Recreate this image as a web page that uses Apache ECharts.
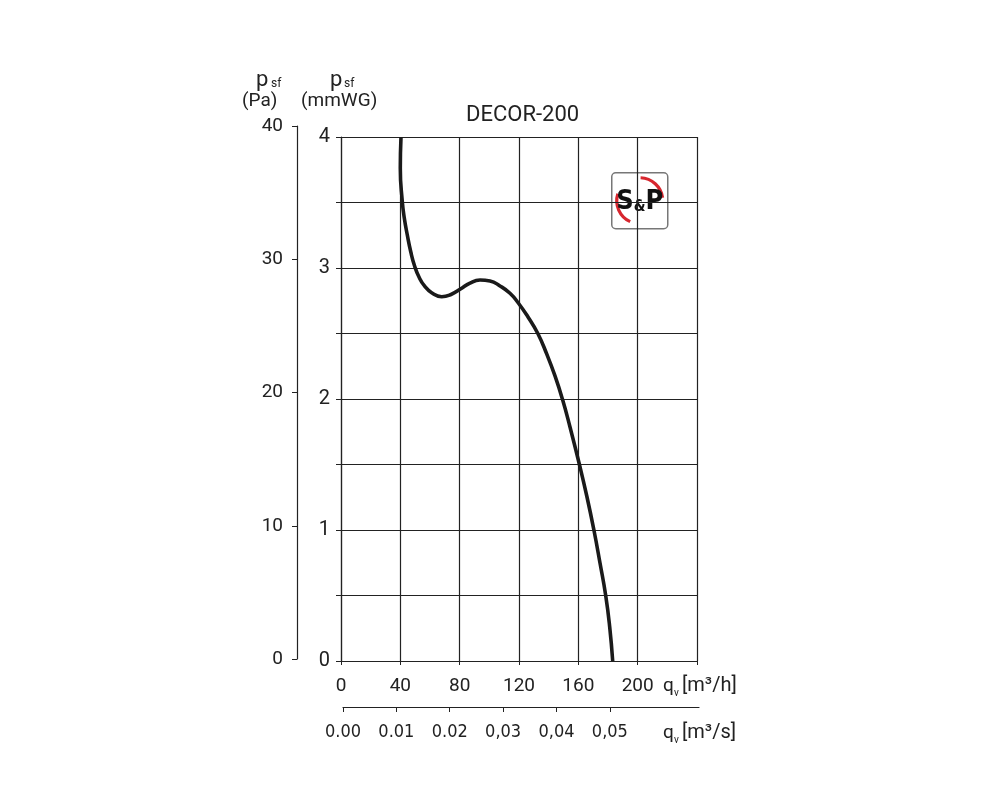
<!DOCTYPE html>
<html>
<head>
<meta charset="utf-8">
<script src="https://cdn.jsdelivr.net/npm/echarts@6/dist/echarts.min.js"></script>
<style>
  html, body {margin: 0; padding: 0; background: #fff;}
  #main {width: 1000px; height: 800px;}
</style>
</head>
<body>
<div id="main"></div>
<script>
    // fan curve: airflow (m3/h) and static pressure (mmWG)
    var flowM3h = [40.45, 39.98, 41.33, 42.67, 44.70, 47.06, 49.62, 52.58, 56.29, 61.35, 67.89, 74.16, 80.56, 86.97,
        93.71, 100.45, 107.19, 113.93, 119.53, 126.07, 132.61, 138.67, 144.27, 149.46, 154.38, 160.65,
        165.84, 170.56, 174.61, 178.45, 181.15, 183.17];
    var pressureMmWG = [4.0, 3.761, 3.506, 3.382, 3.252, 3.122, 3.015, 2.931, 2.863, 2.809, 2.781, 2.798, 2.840, 2.885,
        2.908, 2.901, 2.863, 2.807, 2.733, 2.626, 2.502, 2.344, 2.176, 1.992, 1.786, 1.504,
        1.252, 0.996, 0.748, 0.5, 0.26, 0];
    var m3sValues = [0, 0.01, 0.02, 0.03, 0.04, 0.05];
    var m3sLabels = ['0.00', '0.01', '0.02', '0,03', '0,04', '0,05'];

    var ink = '#222';
    var narrow = "'DejaVu Sans Condensed', Roboto, sans-serif";
    var chart = echarts.init(document.getElementById('main'));
    chart.setOption({
        animation: false,
        textStyle: {fontFamily: 'Roboto', color: ink},
        title: {text: 'DECOR-200', left: 461, top: 99, textStyle: {fontSize: 22, fontWeight: 'normal', color: ink}},
        grid: [
            {left: 341, top: 137, width: 356, height: 524},
            {left: 297, top: 126, width: 1, height: 533},
            {left: 343, top: 706, width: 356, height: 1}
        ],
        xAxis: [
            {
                type: 'value', gridIndex: 0, min: 0, max: 240, interval: 40,
                axisLine: {lineStyle: {color: ink, width: 1.2}},
                axisTick: {length: 4, lineStyle: {color: ink}},
                splitLine: {show: true, lineStyle: {color: ink, width: 1.2}},
                axisLabel: {
                    margin: 16, fontSize: 19, color: ink,
                    formatter: function (v) { return v === 240 ? '' : v; }
                }
            },
            {type: 'value', gridIndex: 1, min: 0, max: 1, show: false},
            {
                type: 'value', gridIndex: 2, min: 0, max: 0.0667,
                axisLine: {lineStyle: {color: ink, width: 1.2}},
                axisTick: {length: 5, customValues: m3sValues, lineStyle: {color: ink}},
                splitLine: {show: false},
                axisLabel: {
                    customValues: m3sValues, margin: 16, fontSize: 18, color: ink,
                    fontFamily: narrow,
                    formatter: function (v) {
                        var i = m3sValues.indexOf(Math.round(v * 100) / 100);
                        return i < 0 ? '' : m3sLabels[i];
                    }
                }
            }
        ],
        yAxis: [
            {
                type: 'value', gridIndex: 0, min: 0, max: 4, interval: 0.5,
                axisLine: {show: true, lineStyle: {color: ink, width: 1.2}},
                axisTick: {show: true, length: 5, lineStyle: {color: ink}},
                splitLine: {show: true, lineStyle: {color: ink, width: 1.2}},
                axisLabel: {
                    margin: 11, fontSize: 20, color: ink,
                    formatter: function (v) { return v % 1 === 0 ? v : ''; }
                }
            },
            {
                type: 'value', gridIndex: 1, min: 0, max: 40, interval: 10,
                axisLine: {show: true, lineStyle: {color: ink, width: 1.2}},
                axisTick: {show: true, length: 5, lineStyle: {color: ink}},
                splitLine: {show: false},
                axisLabel: {margin: 14, fontSize: 19, color: ink}
            },
            {type: 'value', gridIndex: 2, min: 0, max: 1, show: false}
        ],
        series: [
            {
                type: 'line', xAxisIndex: 0, yAxisIndex: 0,
                smooth: 0.5, showSymbol: false, symbol: 'none',
                lineStyle: {color: '#1a1a1a', width: 3.6},
                data: flowM3h.map(function (q, i) { return [q, pressureMmWG[i]]; }),
                z: 5
            }
        ],
        graphic: [
            // axis titles
            {type: 'text', left: 256, top: 69, style: {text: 'p', fontSize: 22, fill: ink, fontFamily: 'Roboto'}},
            {type: 'text', left: 271, top: 78, style: {text: 'sf', fontSize: 12, fill: ink, fontFamily: 'Roboto'}},
            {type: 'text', left: 242, top: 92, style: {text: '(Pa)', fontSize: 19, fill: ink, fontFamily: 'Roboto'}},
            {type: 'text', left: 330, top: 69, style: {text: 'p', fontSize: 22, fill: ink, fontFamily: 'Roboto'}},
            {type: 'text', left: 344, top: 78, style: {text: 'sf', fontSize: 12, fill: ink, fontFamily: 'Roboto'}},
            {type: 'text', left: 301, top: 92, style: {text: '(mmWG)', fontSize: 19, fill: ink, fontFamily: 'Roboto'}},
            {type: 'text', left: 663, top: 677, style: {text: 'q', fontSize: 19, fill: ink, fontFamily: 'Roboto'}},
            {type: 'text', left: 674, top: 688, style: {text: 'v', fontSize: 10, fill: ink, fontFamily: 'Roboto'}},
            {type: 'text', left: 682, top: 676, style: {text: '[m³/h]', fontSize: 20, fill: ink, fontFamily: 'Roboto'}},
            {type: 'text', left: 663, top: 724, style: {text: 'q', fontSize: 19, fill: ink, fontFamily: 'Roboto'}},
            {type: 'text', left: 674, top: 735, style: {text: 'v', fontSize: 10, fill: ink, fontFamily: 'Roboto'}},
            {type: 'text', left: 682, top: 723, style: {text: '[m³/s]', fontSize: 20, fill: ink, fontFamily: 'Roboto'}},
            // S&P logo
            {
                type: 'group', left: 611, top: 172, z: 10,
                children: [
                    {type: 'rect', shape: {x: 0, y: 0, width: 56, height: 56, r: 4},
                        style: {fill: '#fff', stroke: '#777', lineWidth: 1.5}},
                    {type: 'arc', shape: {cx: 28, cy: 28, r: 23, startAngle: 2.0, endAngle: 3.45},
                        style: {fill: null, stroke: '#d7262e', lineWidth: 3.2}},
                    {type: 'arc', shape: {cx: 28, cy: 28, r: 23, startAngle: 4.75, endAngle: 6.15},
                        style: {fill: null, stroke: '#d7262e', lineWidth: 3.2}},
                    {type: 'text', x: 28, y: 29, style: {
                        text: '{b|S}{a|&}{b|P}', fill: '#111', align: 'center', verticalAlign: 'middle',
                        rich: {
                            b: {fontSize: 27, fontWeight: 'bold', fontFamily: narrow, fill: '#111'},
                            a: {fontSize: 15, fontWeight: 'bold', fontFamily: narrow, fill: '#111', padding: [10, 0, 0, 0]}
                        }
                    }}
                ]
            }
        ]
    });
</script>
</body>
</html>
